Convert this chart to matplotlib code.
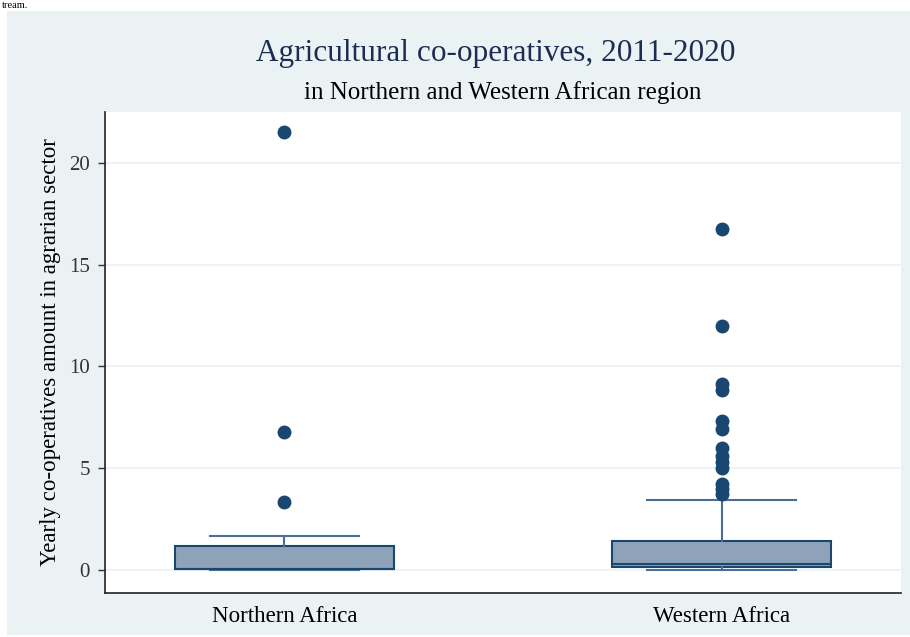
import numpy as np
import matplotlib
matplotlib.use('Agg')
import matplotlib.pyplot as plt
from matplotlib.patches import Rectangle

plt.rcParams['font.family'] = ['Liberation Serif', 'DejaVu Serif']

# data
regions = ['Northern Africa', 'Western Africa']
q1 = [0.05, 0.15]
median = [0.05, 0.30]
q3 = [1.18, 1.43]
whisker_low = [0.0, 0.0]
whisker_high = [1.67, 3.44]
outliers_north = [21.5, 6.75, 3.3]
outliers_west = [16.75, 12.0, 9.15, 8.85, 7.3, 6.9, 6.0, 5.6, 5.3, 5.0, 4.2, 3.95, 3.7]
yticks = [0, 5, 10, 15, 20]

navy = '#1a476f'
box_fill = '#8fa3b8'
panel = '#eaf2f3'

fig = plt.figure(figsize=(9.10, 6.37), dpi=100)
fig.patch.set_facecolor('white')
fig.patches.append(Rectangle((7 / 910, 1 - 635 / 637), 903 / 910, 624 / 637,
                             transform=fig.transFigure, facecolor=panel,
                             edgecolor='none', zorder=-5))
fig.text(2 / 910, 1 - 1 / 637, 'tream.', fontsize=7.5, va='top', ha='left')

ax = fig.add_axes([105 / 910, 1 - 593 / 637, 796 / 910, 481 / 637])
ax.set_facecolor('white')

stats = []
for i, name in enumerate(regions):
    stats.append({'label': name, 'q1': q1[i], 'med': median[i], 'q3': q3[i],
                  'whislo': whisker_low[i], 'whishi': whisker_high[i],
                  'fliers': [outliers_north, outliers_west][i]})

ax.bxp(stats, positions=[1, 2], widths=0.5, patch_artist=True,
       boxprops=dict(facecolor=box_fill, edgecolor=navy, linewidth=1.5),
       medianprops=dict(color=navy, linewidth=1.5),
       whiskerprops=dict(color='#4a6f94', linewidth=1.5),
       capprops=dict(color='#4a6f94', linewidth=1.5),
       capwidths=0.34,
       flierprops=dict(marker='o', markerfacecolor=navy, markeredgecolor=navy,
                       markersize=9))

ax.set_xlim(0.59, 2.41)
ax.set_ylim(-1.15, 22.5)
ax.set_yticks(yticks)
ax.set_yticklabels([str(t) for t in yticks], fontsize=15, color='#333333')
ax.set_xticks([1, 2])
ax.set_xticklabels(regions, fontsize=16.5)
ax.tick_params(axis='x', length=0, pad=9)
ax.tick_params(axis='y', length=5, width=1, color='#333333', pad=6)
ax.yaxis.grid(True, color='#eaf2f3', linewidth=1.2)
ax.set_axisbelow(True)
for s in ['top', 'right']:
    ax.spines[s].set_visible(False)
for s in ['left', 'bottom']:
    ax.spines[s].set_color('#222222')
    ax.spines[s].set_linewidth(1.2)

ax.set_ylabel('Yearly co-operatives amount in agrarian sector', fontsize=16.5,
              labelpad=6)

fig.text(0.545, 1 - 54 / 637, 'Agricultural co-operatives, 2011-2020',
         fontsize=22.5, color='#1c2d55', ha='center', va='center')
fig.text(0.552, 1 - 93 / 637, 'in Northern and Western African region',
         fontsize=18, color='black', ha='center', va='center')

fig.savefig('out.png', dpi=100, facecolor=fig.get_facecolor())
